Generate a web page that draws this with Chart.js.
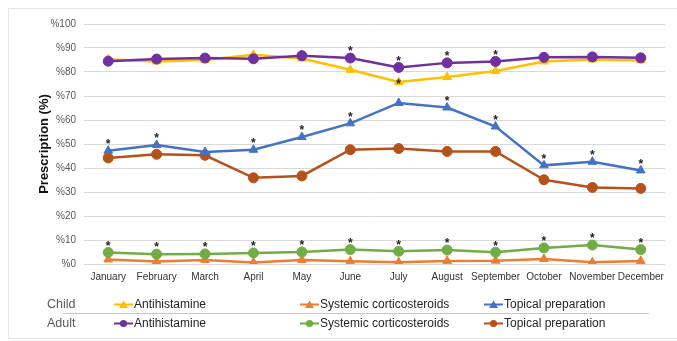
<!DOCTYPE html>
<html>
<head>
<meta charset="utf-8">
<script src="https://cdn.jsdelivr.net/npm/chart.js@4"></script>
<style>
  html,body{margin:0;padding:0;background:#fff;}
  #wrap{position:relative;width:677px;height:341px;overflow:hidden;font-family:"Liberation Sans",Arial,sans-serif;}
  #frame{position:absolute;left:8px;top:8px;width:690px;height:331px;border:1px solid #e6e6e6;box-sizing:border-box;}
  canvas{position:absolute;left:0;top:0;}
  .grp{position:absolute;color:#595959;font-size:12.5px;line-height:14px;}
  .item{position:absolute;display:flex;align-items:center;font-size:12px;line-height:14px;color:#262626;white-space:nowrap;}
  .item svg{margin-right:1px;display:block;}
  #sep{position:absolute;left:63px;top:313px;width:586px;height:0;border-top:1px solid #c8c8c8;}
</style>
</head>
<body>
<div id="wrap">
  <div id="frame"></div>
  <canvas id="c" width="677" height="341"></canvas>
  <div id="legend"></div>
  <div id="sep"></div>
</div>
<script>
const months = ["January","February","March","April","May","June","July","August","September","October","November","December"];
const yTickLabels = ["%0","%10","%20","%30","%40","%50","%60","%70","%80","%90","%100"];

const childAntihistamine = [85.3, 84.4, 85.0, 87.2, 85.6, 80.9, 75.8, 77.9, 80.4, 84.4, 85.2, 84.8];
const childSystemic      = [1.9, 1.0, 1.7, 0.6, 1.7, 1.1, 0.7, 1.3, 1.4, 2.1, 0.7, 1.3];
const childTopical       = [47.2, 49.6, 46.7, 47.6, 52.9, 58.6, 67.1, 65.2, 57.3, 41.1, 42.6, 39.0];
const adultAntihistamine = [84.5, 85.4, 85.8, 85.5, 86.8, 85.8, 81.9, 83.8, 84.4, 86.1, 86.3, 85.9];
const adultSystemic      = [4.8, 4.1, 4.2, 4.6, 5.0, 6.0, 5.3, 5.8, 4.9, 6.7, 7.9, 6.0];
const adultTopical       = [44.2, 45.7, 45.3, 35.9, 36.7, 47.6, 48.1, 46.9, 46.9, 35.1, 31.9, 31.5];

// significance markers (1 = asterisk)
const childAntihistamineSig = [0,0,0,0,0,0,1,0,0,0,0,0];
const childSystemicSig      = [0,0,0,0,0,0,0,0,0,0,0,0];
const childTopicalSig       = [1,1,0,1,1,1,0,1,1,1,1,1];
const adultAntihistamineSig = [0,0,0,0,0,1,1,1,1,0,0,0];
const adultSystemicSig      = [1,1,1,1,1,1,1,1,1,1,1,1];
const adultTopicalSig       = [0,0,0,0,0,0,0,0,0,0,0,0];

const seriesNames = ["Antihistamine","Systemic corticosteroids","Topical preparation"];
const groupNames = ["Child","Adult"];

const FONT = '"Liberation Sans", Arial, sans-serif';

const COLORS = {
  cAnti:"#FFC000", cSys:"#ED7D31", cTop:"#4472C4",
  aAnti:"#7030A0", aSys:"#70AD47", aTop:"#B5521B"
};

function ds(label, data, sig, color, style, order, starOffset){
  return {
    label, data, sig, starOffset,
    borderColor: color, backgroundColor: color,
    pointBackgroundColor: color, pointBorderColor: color,
    pointStyle: style, pointRadius: 5, pointBorderWidth:1,
    borderWidth: 2.5, tension: 0, order
  };
}

const datasets = [
  ds("Child Antihistamine", childAntihistamine, childAntihistamineSig, COLORS.cAnti, 'triangle', 5, 0),
  ds("Child Systemic corticosteroids", childSystemic, childSystemicSig, COLORS.cSys, 'triangle', 6, -9),
  ds("Child Topical preparation", childTopical, childTopicalSig, COLORS.cTop, 'triangle', 3, -9),
  ds("Adult Antihistamine", adultAntihistamine, adultAntihistamineSig, COLORS.aAnti, 'circle', 1, -9),
  ds("Adult Systemic corticosteroids", adultSystemic, adultSystemicSig, COLORS.aSys, 'circle', 2, -9),
  ds("Adult Topical preparation", adultTopical, adultTopicalSig, COLORS.aTop, 'circle', 4, -9)
];

const starPlugin = {
  id:'stars',
  afterDatasetsDraw(chart){
    const ctx = chart.ctx;
    ctx.save();
    ctx.fillStyle = '#222';
    ctx.font = 'bold 12px "Liberation Sans", Arial, sans-serif';
    ctx.textAlign = 'center';
    ctx.textBaseline = 'middle';
    chart.data.datasets.forEach((d, i) => {
      const meta = chart.getDatasetMeta(i);
      meta.data.forEach((pt, j) => {
        if (d.sig[j]) ctx.fillText('*', pt.x, pt.y + d.starOffset + 3);
      });
    });
    ctx.restore();
  }
};

new Chart(document.getElementById('c'), {
  type:'line',
  data:{ labels: months, datasets },
  options:{
    responsive:false, animation:false,
    layout:{ padding:{ left:0, right:12, top:24, bottom:0 } },
    plugins:{ legend:{display:false}, tooltip:{enabled:false} },
    scales:{
      x:{
        type:'category', offset:true,
        grid:{ display:false, drawTicks:false },
        border:{ display:false },
        ticks:{ color:'#333333', font:{ family:FONT, size:10 }, padding:7, maxRotation:0, autoSkip:false },
        afterFit(s){ s.height = 77; }
      },
      y:{
        min:0, max:100,
        grid:{ color:'#d9d9d9', lineWidth:1, drawTicks:false },
        border:{ display:false },
        ticks:{ stepSize:10, color:'#595959', padding:8,
          font:{ family:FONT, size:10 },
          callback:(v)=> yTickLabels[Math.round(v/10)] },
        title:{ display:true, text:'Prescription (%)', color:'#111',
          font:{ family:FONT, size:13, weight:'bold' }, padding:{top:37,bottom:0} },
        afterFit(s){ s.width = 84; }
      }
    }
  },
  plugins:[starPlugin]
});

// legend (table style)
function marker(color, style){
  const shape = style==='triangle'
    ? `<polygon points="9.5,1.5 14,9 5,9" fill="${color}"/>`
    : `<circle cx="9.5" cy="5.5" r="3.6" fill="${color}"/>`;
  return `<svg width="19" height="11" viewBox="0 0 19 11"><line x1="0" y1="5.5" x2="19" y2="5.5" stroke="${color}" stroke-width="2"/>${shape}</svg>`;
}
const legendRows = [
  { name: groupNames[0], top: 297, colors:[COLORS.cAnti, COLORS.cSys, COLORS.cTop], style:'triangle' },
  { name: groupNames[1], top: 316, colors:[COLORS.aAnti, COLORS.aSys, COLORS.aTop], style:'circle' }
];
const xs = [114, 300, 484];
let html = '';
legendRows.forEach(r => {
  html += `<div class="grp" style="left:47px;top:${r.top}px">${r.name}</div>`;
  seriesNames.forEach((n, k) => {
    html += `<div class="item" style="left:${xs[k]}px;top:${r.top}px">${marker(r.colors[k], r.style)}<span>${n}</span></div>`;
  });
});
document.getElementById('legend').innerHTML = html;
</script>
</body>
</html>
